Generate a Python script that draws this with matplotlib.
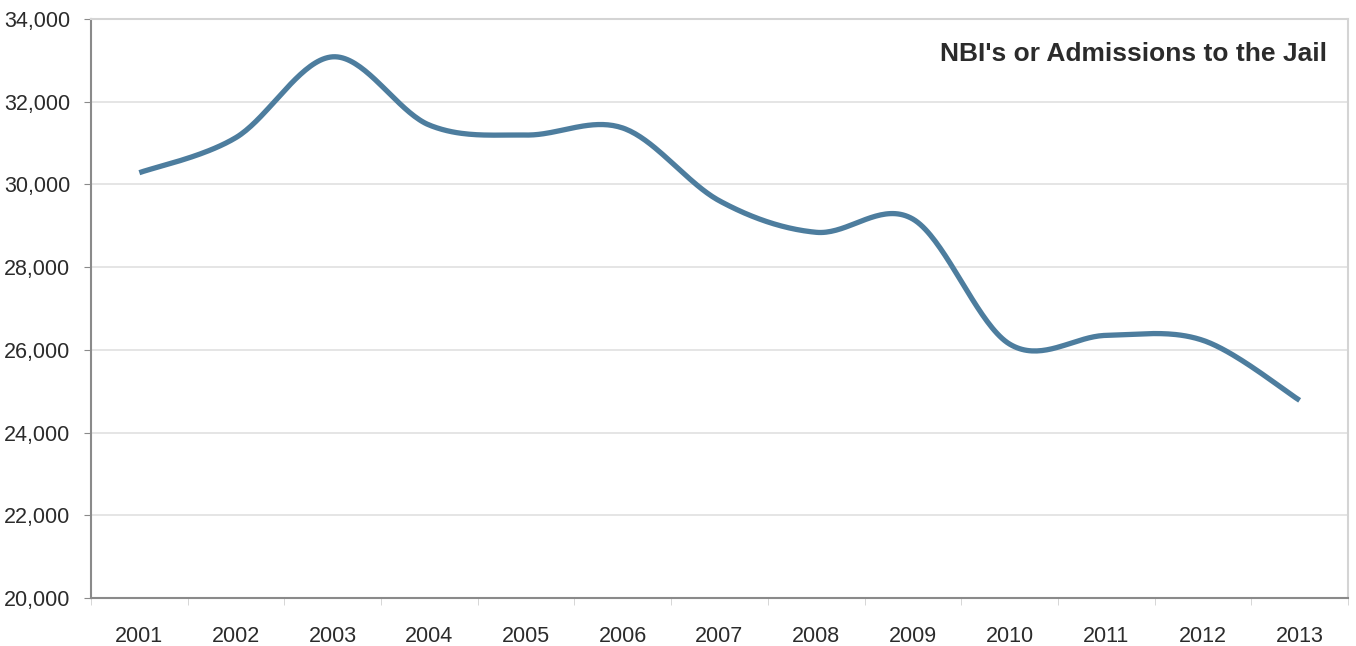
import numpy as np
import matplotlib.pyplot as plt
from matplotlib.ticker import FuncFormatter

years = ["2001", "2002", "2003", "2004", "2005", "2006", "2007",
         "2008", "2009", "2010", "2011", "2012", "2013"]
admissions = [30280, 31130, 33080, 31430, 31190, 31360, 29600,
              28840, 29160, 26140, 26350, 26230, 24780]
y_ticks = [20000, 22000, 24000, 26000, 28000, 30000, 32000, 34000]
title = "NBI's or Admissions to the Jail"


def smooth(xs, ys, n=40):
    # catmull-rom style smoothing, like excel's "smoothed line"
    xs = np.asarray(xs, float)
    ys = np.asarray(ys, float)
    px = np.concatenate([[xs[0]], xs, [xs[-1]]])
    py = np.concatenate([[ys[0]], ys, [ys[-1]]])
    out_x, out_y = [], []
    t = np.linspace(0, 1, n)
    for i in range(1, len(px) - 2):
        p0, p1, p2, p3 = (np.array([px[j], py[j]]) for j in range(i - 1, i + 3))
        c1 = p1 + (p2 - p0) / 6
        c2 = p2 - (p3 - p1) / 6
        b = ((1 - t) ** 3)[:, None] * p1 + (3 * (1 - t) ** 2 * t)[:, None] * c1 \
            + (3 * (1 - t) * t ** 2)[:, None] * c2 + (t ** 3)[:, None] * p2
        out_x.extend(b[:, 0])
        out_y.extend(b[:, 1])
    return np.array(out_x), np.array(out_y)


plt.rcParams['font.family'] = ['Liberation Sans', 'DejaVu Sans']

fig = plt.figure(figsize=(13.56, 6.46), dpi=100)
ax = fig.add_axes([0.0671, 0.074, 0.927, 0.897])

x = np.arange(len(years))
sx, sy = smooth(x, admissions)
ax.plot(sx, sy, color="#4d7d9e", lw=3.8, solid_capstyle="butt", zorder=3)

ax.set_xlim(-0.5, len(years) - 0.5)
ax.set_ylim(20000, 34000)
ax.set_yticks(y_ticks)
ax.yaxis.set_major_formatter(FuncFormatter(lambda v, p: f"{int(v):,}"))
ax.set_xticks(x)
ax.set_xticklabels(years)
ax.set_xticks(np.arange(-0.5, len(years)), minor=True)

ax.grid(axis="y", color="#e0e0e0", lw=1.2)
ax.set_axisbelow(True)
for side in ["top", "right"]:
    ax.spines[side].set_color("#d4d4d4")
    ax.spines[side].set_linewidth(1.5)
for side in ["left", "bottom"]:
    ax.spines[side].set_color("#8a8a8a")
    ax.spines[side].set_linewidth(1.5)

ax.tick_params(axis="y", labelsize=15.5, colors="#8a8a8a", labelcolor="#2b2b2b",
               length=5, pad=10)
ax.tick_params(axis="x", which="major", labelsize=15.5, labelcolor="#2b2b2b",
               length=0, pad=20)
ax.tick_params(axis="x", which="minor", colors="#d0d0d0", length=5)

ax.text(0.983, 0.94, title, transform=ax.transAxes, ha="right", va="center",
        fontsize=19, fontweight="bold", color="#2b2b2b")

fig.savefig("out.png", dpi=100)
